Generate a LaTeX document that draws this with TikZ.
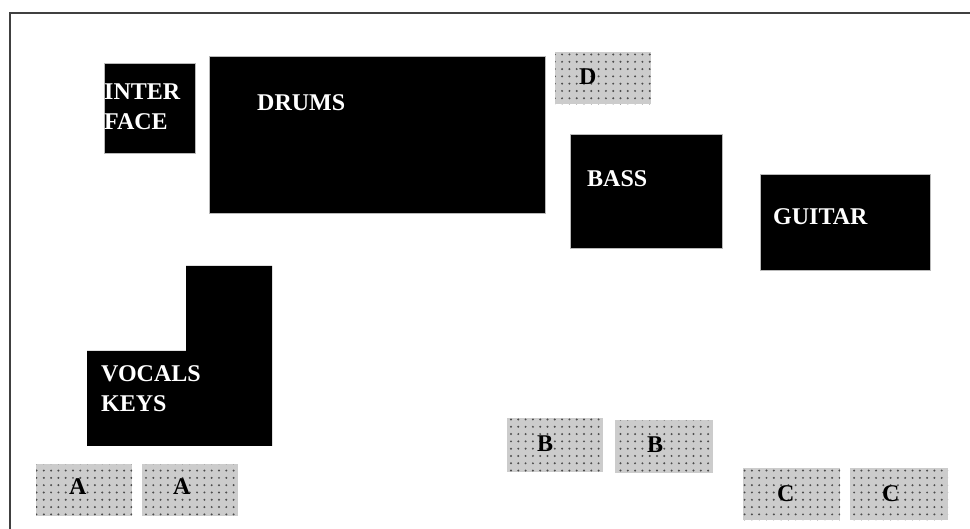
\documentclass[tikz,border=0pt]{standalone}
\usepackage{fontspec}
\setmainfont{Liberation Serif}
\usetikzlibrary{positioning, patterns.meta}

\begin{document}
\begin{tikzpicture}[
      x=1pt, y=-1pt,
      amp/.style={rectangle, draw=gray!55, fill=black, line width=0.8pt,
      anchor=north west, inner sep=0pt},
      spot/.style={rectangle, fill={rgb,255:red,204;green,204;blue,204},
      anchor=north west, inner sep=0pt, minimum width=96pt,
      minimum height=52pt,
      postaction={pattern={Dots[distance=7.3pt, radius=1.1pt]},
      pattern color=black!70}},
      bandtext/.style={anchor=west, inner sep=0pt, text=white, align=left,
      font=\bfseries\fontsize{24}{30}\selectfont},
      spottext/.style={bandtext, text=black}
    ]
    \useasboundingbox (0,0) rectangle (970,529);
    \draw [line width=2.4pt, black!75] (970,13) -- (10,13) -- (10,529);

    % stage
    \node [amp, minimum width=91pt, minimum height=90pt] (interface)
      at (104,63) {};
    \node [amp, minimum width=336pt, minimum height=157pt] (drums)
      at (209,56) {};
    \node [amp, minimum width=152pt, minimum height=114pt] (bass)
      at (570,134) {};
    \node [amp, minimum width=170pt, minimum height=96pt] (guitar)
      at (760,174) {};
    \fill [black] (186,266) coordinate (vocals) -- (272,266) -- (272,446)
      -- (87,446) -- (87,351) -- (186,351) -- cycle;

    \node [bandtext] (interfacetext) at (104,106.5) {INTER\\FACE};
    \node [bandtext] (drumstext) at (257,103) {DRUMS};
    \node [bandtext] (basstext) at (587,178.5) {BASS};
    \node [bandtext] (guitartext) at (773,217) {GUITAR};
    \node [bandtext] (vocalstext) at (101,388.5) {VOCALS\\KEYS};

    % monitors
    \node [spot] (d) at (555,52) {};
    \node [spot] (a1) at (36,464) {};
    \node [spot] (a2) at (142,464) {};
    \node [spot, minimum height=54pt] (b1) at (507,418) {};
    \node [spot, minimum width=98pt, minimum height=53pt] (b2) at (615,420) {};
    \node [spot, minimum width=97pt] (c1) at (743,468) {};
    \node [spot, minimum width=98pt] (c2) at (850,468) {};

    \node [spottext] (dtext) at (579,77) {D};
    \node [spottext] (a1text) at (69,486.5) {A};
    \node [spottext] (a2text) at (173,486.5) {A};
    \node [spottext] (b1text) at (537,444) {B};
    \node [spottext] (b2text) at (647,445) {B};
    \node [spottext] (c1text) at (777,494) {C};
    \node [spottext] (c2text) at (882,494) {C};
  \end{tikzpicture}
\end{document}
